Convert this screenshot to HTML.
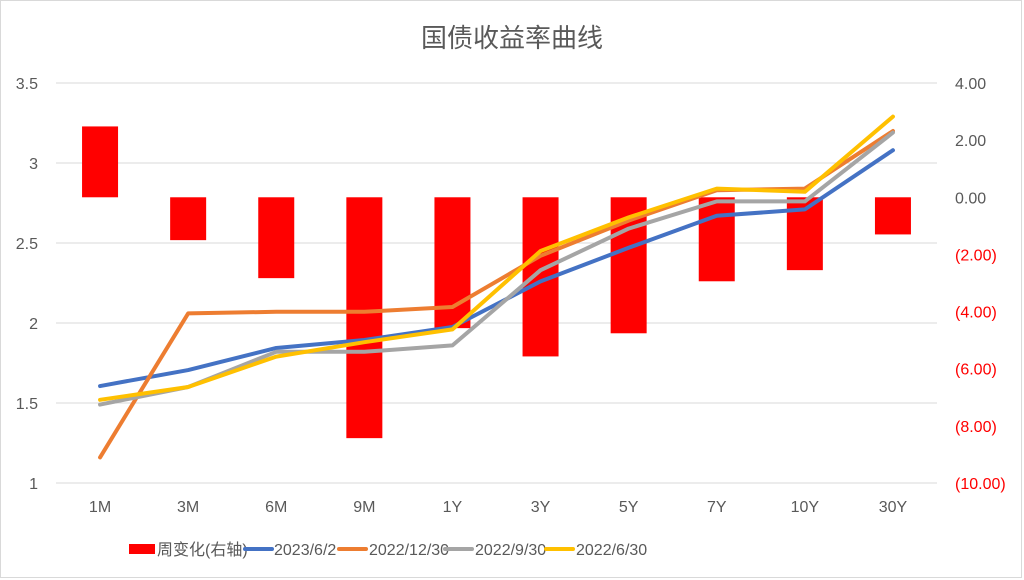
<!DOCTYPE html>
<html><head><meta charset="utf-8"><style>
body{margin:0;background:#fff;}
svg{display:block;font-family:"Liberation Sans","Noto Sans CJK SC",sans-serif;}
</style></head><body>
<svg id="chart" width="1024" height="580">
<rect x="0.5" y="0.5" width="1021" height="577" fill="#fff" stroke="#d9d9d9"/>
<text x="512" y="47" text-anchor="middle" font-size="26" fill="#595959">国债收益率曲线</text>
<g id="grid"></g><g id="bars"></g><g id="lines"></g><g id="axes"></g><g id="legend"></g>
</svg>
<script>
const categories=["1M","3M","6M","9M","1Y","3Y","5Y","7Y","10Y","30Y"];
const weeklyChange=[2.48,-1.5,-2.83,-8.43,-4.58,-5.57,-4.76,-2.94,-2.55,-1.3];
const y20230602=[1.606,1.706,1.844,1.894,1.975,2.26,2.47,2.67,2.71,3.08];
const y20221230=[1.16,2.06,2.07,2.07,2.10,2.42,2.64,2.83,2.84,3.2];
const y20220930=[1.49,1.6,1.82,1.82,1.86,2.33,2.59,2.76,2.76,3.19];
const y20220630=[1.52,1.6,1.79,1.88,1.96,2.45,2.66,2.84,2.82,3.29];
const leftTicks=[1,1.5,2,2.5,3,3.5];
const rightTicks=[4,2,0,-2,-4,-6,-8,-10];
const NS="http://www.w3.org/2000/svg";
const X0=56,X1=937,TOP=83,BOT=483;
const step=(X1-X0)/categories.length;
const xc=i=>X0+step*(i+0.5);
const yl=v=>BOT-(v-1)/(3.5-1)*(BOT-TOP);
const yr=v=>TOP+(4-v)/(14)*(BOT-TOP);
function mk(tag,attrs,parent,text){const e=document.createElementNS(NS,tag);for(const k in attrs)e.setAttribute(k,attrs[k]);if(text!==undefined)e.textContent=text;document.getElementById(parent).appendChild(e);return e;}
leftTicks.forEach(t=>{
 const g=mk('line',{x1:X0,x2:X1,y1:yl(t),y2:yl(t),stroke:'#d9d9d9','stroke-width':1},'grid');
 
 
 const l=mk('text',{x:38,y:yl(t)+6,'text-anchor':'end','font-size':16,fill:'#595959'},'axes',String(t));
 
 
});
rightTicks.forEach(t=>{
 const s=t<0?'('+Math.abs(t).toFixed(2)+')':t.toFixed(2);
 const l=mk('text',{x:955,y:yr(t)+6,'font-size':16,fill:t<0?'#ff0000':'#595959'},'axes',s);
 
 
});
categories.forEach((c,i)=>{
 const l=mk('text',{x:xc(i),y:512,'text-anchor':'middle','font-size':16,fill:'#595959'},'axes',c);
 
 
 const v=weeklyChange[i],y0=yr(0),y1=yr(v);
 const b=mk('rect',{x:xc(i)-18,y:Math.min(y0,y1),width:36,height:Math.abs(y1-y0),fill:'#ff0000'},'bars');
 
 
});
const series=[[y20230602,'#4472c4','2023-6-2'],[y20221230,'#ed7d31','2022-12-30'],[y20220930,'#a5a5a5','2022-9-30'],[y20220630,'#ffc000','2022-6-30']];
series.forEach(([d,col,nm])=>{
 const p=mk('polyline',{points:d.map((v,i)=>xc(i)+','+yl(v)).join(' '),fill:'none',stroke:col,'stroke-width':4,'stroke-linejoin':'round','stroke-linecap':'round'},'lines');
 
 
});
const lg=[['rect','#ff0000','周变化(右轴)',129,157],['line','#4472c4','2023/6/2',244,274],['line','#ed7d31','2022/12/30',338,369],['line','#a5a5a5','2022/9/30',444,475],['line','#ffc000','2022/6/30',545,576]];
lg.forEach(([t,col,txt,x,tx])=>{
 let m;
 if(t==='rect')m=mk('rect',{x:x,y:544,width:26,height:10,fill:col},'legend');
 else m=mk('line',{x1:x+1,x2:x+28,y1:549,y2:549,stroke:col,'stroke-width':4,'stroke-linecap':'round'},'legend');
 
 
 const l=mk('text',{x:tx,y:555,'font-size':16,fill:'#595959'},'legend',txt);
 
 
});
</script>
</body></html>
